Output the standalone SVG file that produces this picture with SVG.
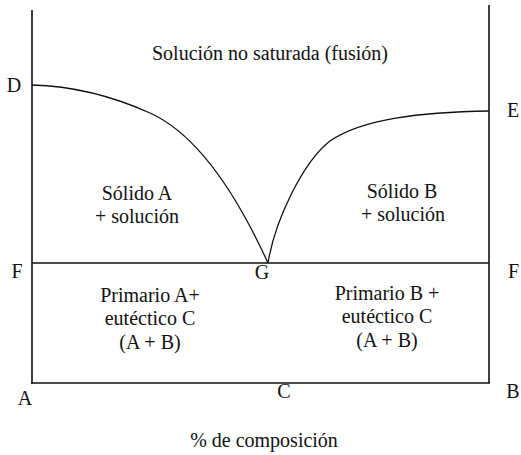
<svg xmlns="http://www.w3.org/2000/svg" width="521" height="455" viewBox="0 0 521 455">
<style>
.ln{stroke:#111;stroke-width:1.6;fill:none}
.cv{stroke:#111;stroke-width:1.3;fill:none}
.t{font-size:20px;fill:#111}
.c{text-anchor:middle}
</style>
<rect width="521" height="455" fill="#fff"/>
<g id="axes">
<line class="ln" x1="32" y1="10" x2="32" y2="384"/>
<line class="ln" x1="489" y1="5" x2="489" y2="383"/>
<line class="ln" x1="31" y1="383" x2="490" y2="383"/>
<line class="ln" x1="32" y1="263" x2="489" y2="263"/>
</g>
<g id="curves">
<path class="cv" d="M32,85 C70,86 110,95 150,113 S230,180 268,263"/>
<path class="cv" d="M268,263 C275,220 303,162 330,141 C362,119 420,112 489,111"/>
</g>
<g id="region-labels" font-family="Liberation Serif, Times New Roman, serif">
<text class="t c" x="270" y="60">Solución no saturada (fusión)</text>
<text class="t c" x="137" y="200">Sólido A</text>
<text class="t c" x="137" y="223">+ solución</text>
<text class="t c" x="402" y="198">Sólido B</text>
<text class="t c" x="403" y="221">+ solución</text>
<text class="t c" x="150" y="302">Primario A+</text>
<text class="t c" x="150" y="325">eutéctico C</text>
<text class="t c" x="150" y="349">(A + B)</text>
<text class="t c" x="387" y="300">Primario B +</text>
<text class="t c" x="387" y="323">eutéctico C</text>
<text class="t c" x="387" y="347">(A + B)</text>
<text class="t c" x="264" y="447">% de composición</text>
</g>
<g id="point-labels" font-family="Liberation Serif, Times New Roman, serif">
<text class="t c" x="14" y="92">D</text>
<text class="t c" x="513" y="117">E</text>
<text class="t c" x="17" y="278">F</text>
<text class="t c" x="262" y="279">G</text>
<text class="t" x="508" y="278">F</text>
<text class="t c" x="25" y="405">A</text>
<text class="t c" x="284" y="398">C</text>
<text class="t c" x="513" y="398">B</text>
</g>
</svg>
